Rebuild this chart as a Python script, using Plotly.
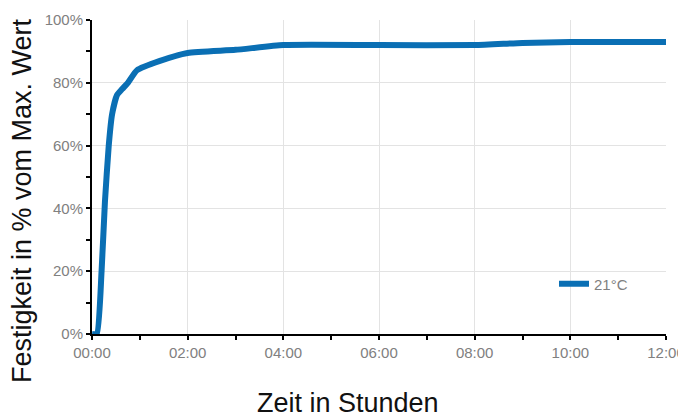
import plotly.graph_objects as go

hours = [0.0, 0.10, 0.20, 0.27, 0.35, 0.42, 0.52, 0.63, 0.75, 0.94, 1.42, 2.0, 3.0, 4.0, 6.0, 8.0, 9.0, 10.0, 11.0, 12.0]
strength = [0, 0, 20, 42, 60, 70, 76, 78, 80, 84, 87, 89.5, 90.5, 92, 92, 92, 92.7, 93, 93, 93]
series_name = "21°C"
x_title = "Zeit in Stunden"
y_title = "Festigkeit in % vom Max. Wert"
x_tickvals = [0, 2, 4, 6, 8, 10, 12]
x_ticktext = ["00:00", "02:00", "04:00", "06:00", "08:00", "10:00", "12:00"]
y_tickvals = [0, 20, 40, 60, 80, 100]
y_ticktext = ["0%", "20%", "40%", "60%", "80%", "100%"]

# page has an 8px body margin; figure is sized so the plot lands where the reference has it
W, H = 678, 407
ML, MR, MT, MB = 84, 20, 12, 81
pw, ph = W - ML - MR, H - MT - MB

def px(x):
    return (x - 8 - ML) / pw

def py(y):
    return (H - MB - (y - 8)) / ph

fig = go.Figure()
fig.add_trace(go.Scatter(x=hours, y=strength, mode="lines", name=series_name,
                         line=dict(color="#0a6fb4", width=6, shape="spline", smoothing=0.5)))

tick_font = dict(size=15, color="#808080")
fig.update_layout(
    width=W, height=H,
    margin=dict(l=ML, r=MR, t=MT, b=MB, autoexpand=False),
    plot_bgcolor="white", paper_bgcolor="white",
    font=dict(family="Liberation Sans, Arial, sans-serif", color="#808080"),
    showlegend=True,
    legend=dict(x=px(554), y=py(284), xanchor="left", yanchor="middle", bgcolor="rgba(0,0,0,0)",
                font=dict(size=15, color="#808080"), itemwidth=30),
    xaxis=dict(range=[0, 12], tickvals=x_tickvals, ticktext=x_ticktext, automargin=False,
               showgrid=True, gridcolor="#e3e3e3", gridwidth=1,
               showline=True, linecolor="black", linewidth=2,
               ticks="outside", ticklen=4, tickwidth=2, tickcolor="black",
               minor=dict(dtick=1, ticks="outside", ticklen=4, tickwidth=2, tickcolor="black", showgrid=False),
               tickfont=tick_font, zeroline=False),
    yaxis=dict(range=[0, 100], tickvals=y_tickvals, ticktext=y_ticktext, automargin=False,
               showgrid=True, gridcolor="#e3e3e3", gridwidth=1,
               showline=True, linecolor="black", linewidth=2,
               ticks="outside", ticklen=4, tickwidth=2, tickcolor="black",
               minor=dict(dtick=10, ticks="outside", ticklen=4, tickwidth=2, tickcolor="black", showgrid=False),
               tickfont=tick_font, zeroline=False),
    annotations=[
        dict(text=x_title, x=px(348), y=py(403), xref="paper", yref="paper", showarrow=False,
             xanchor="center", yanchor="middle", font=dict(size=27, color="#111")),
        dict(text=y_title, x=px(22), y=py(201), xref="paper", yref="paper", showarrow=False,
             xanchor="center", yanchor="middle", textangle=-90, font=dict(size=27, color="#111")),
    ],
)

fig.write_html("out.html")
